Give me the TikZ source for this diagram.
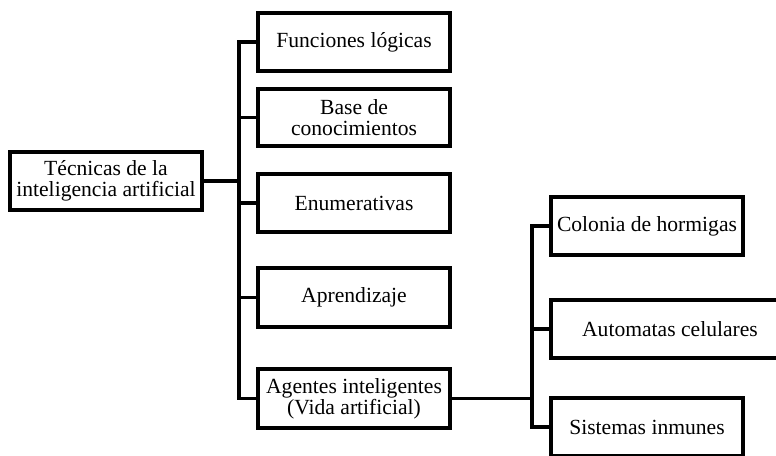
\documentclass[tikz,border=0pt]{standalone}
\usepackage{fontspec}
\setmainfont{Liberation Serif}
\begin{document}
\begin{tikzpicture}[x=1pt,y=-1pt,
  box/.style={draw,line width=3.2pt,align=center,inner sep=0pt,
    font=\fontsize{21.6}{21}\selectfont,minimum width=192pt,minimum height=58pt},
  link/.style={line width=3.2pt,line cap=rect}]
\useasboundingbox (0,0) rectangle (776,455);
\clip (0,0) rectangle (776,455);
\node[box] (root) at (106,181) {Técnicas de la\\inteligencia artificial};
\node[box] (fun) at (354,42) {Funciones lógicas};
\node[box,minimum height=57pt] (base) at (354,117.5) {Base de\\conocimientos};
\node[box] (enu) at (354,203) {Enumerativas};
\node[box,minimum height=59pt] (apr) at (354,297.5) {Aprendizaje};
\node[box,minimum height=59pt] (age) at (354,398.5) {Agentes inteligentes\\(Vida artificial)};
\node[box] (col) at (647,226) {Colonia de hormigas};
\node[box,minimum width=238pt] (aut) at (670,329) {Automatas celulares};
\node[box] (sis) at (647,427) {Sistemas inmunes};
\coordinate (t) at (239,181);
\coordinate (s) at (532,398.5);
\draw[link] (root.east) -- (t);
\draw[link] (fun.west) -| (t) |- (age.west);
\draw[link] (base.west) -- (base.west -| t);
\draw[link] (enu.west) -- (enu.west -| t);
\draw[link] (apr.west) -- (apr.west -| t);
\draw[link] (age.east) -- (s);
\draw[link] (col.west) -| (s) |- (sis.west);
\draw[link] (aut.west) -- (aut.west -| s);
\end{tikzpicture}
\end{document}
